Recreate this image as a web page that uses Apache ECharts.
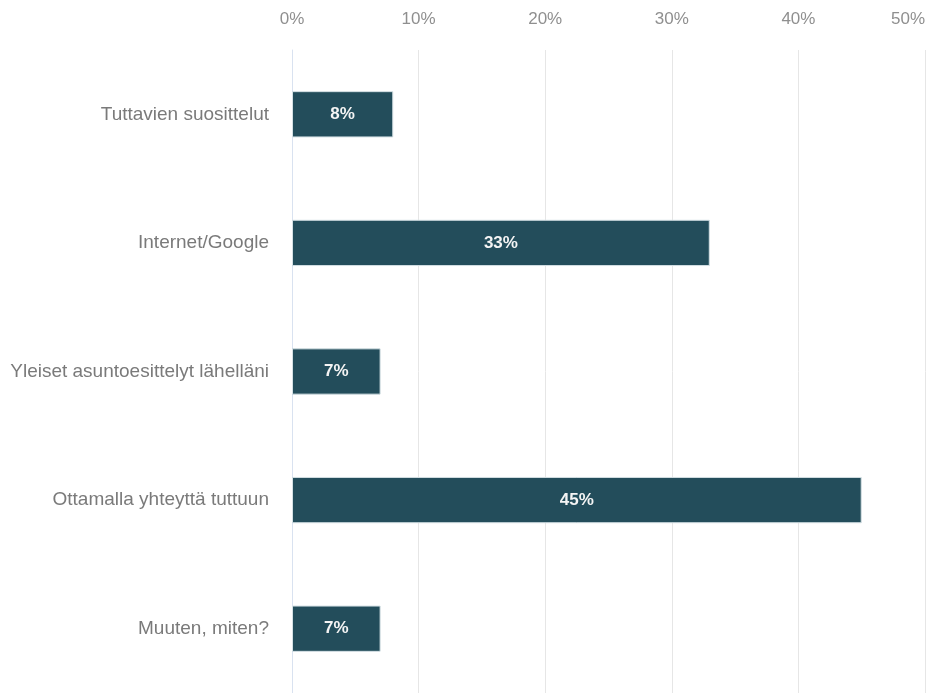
<!DOCTYPE html>
<html>
<head>
<meta charset="utf-8">
<script src="https://cdn.jsdelivr.net/npm/echarts@6/dist/echarts.min.js"></script>
<style>
  html, body { margin: 0; padding: 0; background: #ffffff; }
  #chart { width: 928px; height: 693px; }
</style>
</head>
<body>
<div id="chart"></div>
<script>
// Survey responses: how the respondent found their agent
const categories = [
  'Tuttavien suosittelut',
  'Internet/Google',
  'Yleiset asuntoesittelyt lähelläni',
  'Ottamalla yhteyttä tuttuun',
  'Muuten, miten?'
];
const shares = [8, 33, 7, 45, 7];
const tickValues = [0, 10, 20, 30, 40, 50];

const chart = echarts.init(document.getElementById('chart'));
chart.setOption({
  animation: false,
  textStyle: { fontFamily: 'Liberation Sans, Arial, sans-serif' },
  grid: { left: 292, right: 0, top: 50, bottom: -8, containLabel: false },
  xAxis: {
    type: 'value',
    position: 'top',
    min: tickValues[0],
    max: tickValues[tickValues.length - 1],
    interval: tickValues[1] - tickValues[0],
    axisLine: { show: false },
    axisTick: { show: false },
    axisLabel: {
      color: '#8f8f8f',
      fontSize: 17,
      margin: 22,
      alignMaxLabel: 'right',
      formatter: v => v + '%'
    },
    splitLine: { show: true, lineStyle: { color: '#e6e6e6', width: 1 } }
  },
  yAxis: {
    type: 'category',
    inverse: true,
    data: categories,
    axisLine: { show: true, lineStyle: { color: '#d9e2f0', width: 1 } },
    axisTick: { show: false },
    axisLabel: { color: '#7a7a7a', fontSize: 19, margin: 23 }
  },
  series: [{
    type: 'bar',
    data: shares,
    barWidth: '36%',
    itemStyle: { color: '#234d5b', borderColor: '#d4e0e4', borderWidth: 1 },
    label: {
      show: true,
      position: 'inside',
      color: '#f4f4f4',
      fontSize: 17,
      fontWeight: 'bold',
      formatter: p => p.value + '%'
    }
  }]
});
</script>
</body>
</html>
